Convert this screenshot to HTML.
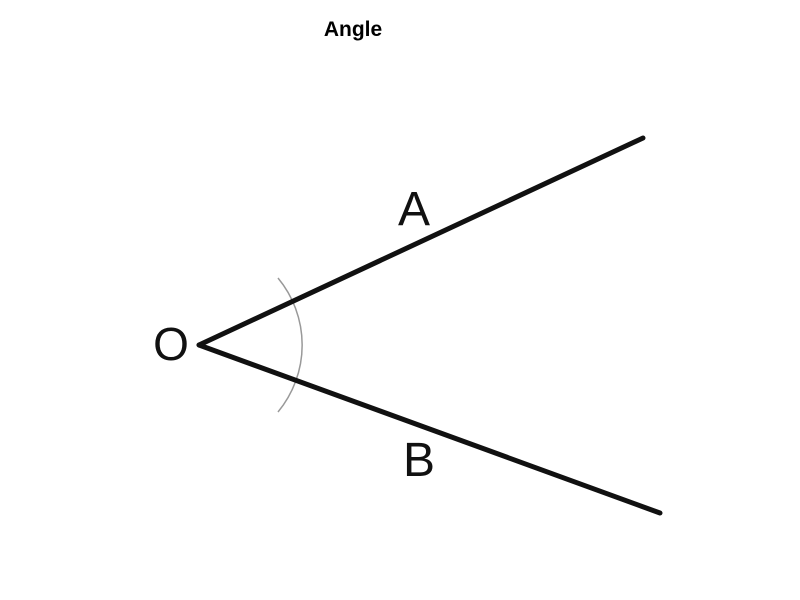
<!DOCTYPE html>
<html><head><style>body{margin:0;background:#fff}svg{display:block}</style></head>
<body>
<svg width="800" height="600" xmlns="http://www.w3.org/2000/svg">
<rect width="800" height="600" fill="#fff"/>
<text x="353" y="36" font-family="Liberation Sans, sans-serif" font-weight="bold" font-size="21" text-anchor="middle">Angle</text>
<path d="M278,278 A105,105 0 0 1 278,412" fill="none" stroke="#999" stroke-width="1.5"/>
<line x1="199" y1="345" x2="643" y2="138" stroke="#111" stroke-width="5" stroke-linecap="round"/>
<line x1="199" y1="345" x2="660" y2="513" stroke="#111" stroke-width="5" stroke-linecap="round"/>
<text x="171" y="360" font-family="Liberation Sans, sans-serif" font-size="46" text-anchor="middle" fill="#111">O</text>
<text x="414" y="225" font-family="Liberation Sans, sans-serif" font-size="48" text-anchor="middle" fill="#111">A</text>
<text x="419" y="476" font-family="Liberation Sans, sans-serif" font-size="48" text-anchor="middle" fill="#111">B</text>
</svg>
</body></html>
